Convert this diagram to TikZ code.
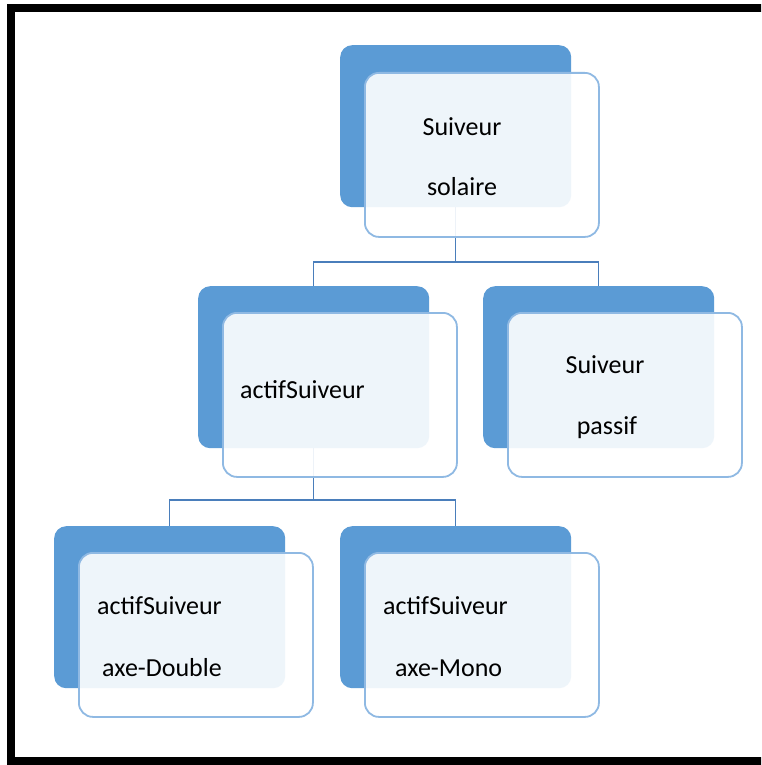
\documentclass[tikz,border=0pt]{standalone}
\usepackage{fontspec}
\setmainfont{Carlito}
\definecolor{bdark}{HTML}{5B9BD5}
\definecolor{bfront}{HTML}{8FB9E3}
\definecolor{conn}{HTML}{4A7EBB}
\tikzset{
  backbox/.style={fill=bdark, draw=none, rounded corners=12pt, minimum width=231pt, minimum height=162pt, anchor=north west, inner sep=0pt},
  frontbox/.style={fill=white, fill opacity=0.9, draw=bfront, draw opacity=1, line width=1.8pt, rounded corners=14pt, minimum width=234pt, minimum height=164pt, anchor=north west, inner sep=0pt},
  txt/.style={font=\fontsize{26}{30}\selectfont, text=black, inner sep=0pt},
  connector/.style={draw=conn, line width=1.3pt},
}
\begin{document}
\begin{tikzpicture}[x=1pt,y=-1pt]
\useasboundingbox (0,0) rectangle (761,765);
\clip (0,0) rectangle (761,765);
\fill[white] (0,0) rectangle (761,765);
% frame
\draw[line width=8pt, black] (780,8) -- (11,8) -- (11,761) -- (780,761);
% back boxes
\node[backbox] (b0) at (340,45) {};
\node[backbox] (b1) at (198,286) {};
\node[backbox] (b2) at (483,286) {};
\node[backbox] (b3) at (54,526) {};
\node[backbox] (b4) at (340,526) {};
% connectors
\coordinate (j1) at (0,262);
\coordinate (j2) at (0,500);
\draw[connector] (b0.south) -- (b0.south |- j1) -| (b1.north);
\draw[connector] (b0.south |- j1) -| (b2.north);
\draw[connector] (b1.south) -- (b1.south |- j2) -| (b3.north);
\draw[connector] (b1.south |- j2) -| (b4.north);
% front boxes
\node[frontbox] (f0) at (364,72) {};
\node[frontbox] (f1) at (222,312) {};
\node[frontbox] (f2) at (507,312) {};
\node[frontbox] (f3) at (78,552) {};
\node[frontbox] (f4) at (364,552) {};
% texts
\node[txt] (t0a) at (462,127) {Suiveur};
\node[txt] (t0b) at (462,187) {solaire};
\node[txt, anchor=west] (t1a) at (240,390) {actifSuiveur};
\node[txt] (t2a) at (605,365) {Suiveur};
\node[txt] (t2b) at (607,428) {passif};
\node[txt, anchor=west] (t3a) at (97,606) {actifSuiveur};
\node[txt, anchor=west] (t3b) at (102,668) {axe-Double};
\node[txt, anchor=west] (t4a) at (383,606) {actifSuiveur};
\node[txt, anchor=west] (t4b) at (395,668) {axe-Mono};
\end{tikzpicture}
\end{document}
